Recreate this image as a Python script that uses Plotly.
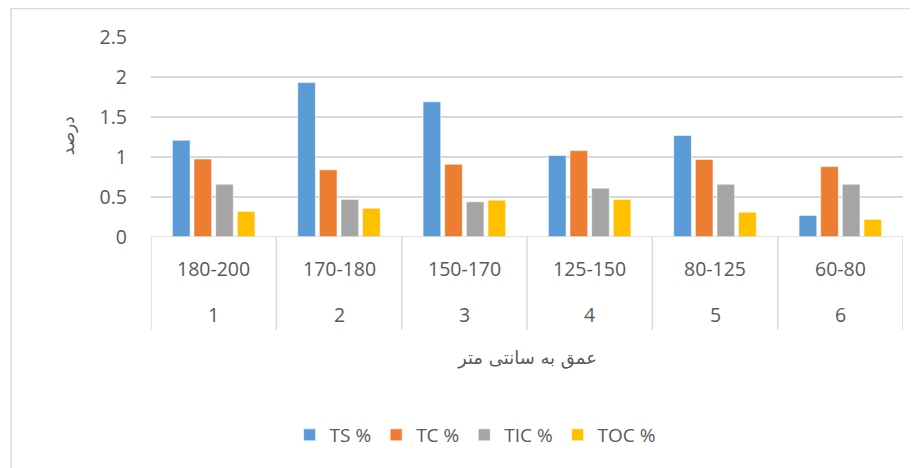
import plotly.graph_objects as go

depths = ["180-200", "170-180", "150-170", "125-150", "80-125", "60-80"]
samples = ["1", "2", "3", "4", "5", "6"]
ts = [1.21, 1.93, 1.69, 1.02, 1.27, 0.27]
tc = [0.975, 0.84, 0.91, 1.08, 0.97, 0.88]
tic = [0.66, 0.47, 0.44, 0.61, 0.66, 0.66]
toc = [0.32, 0.36, 0.46, 0.47, 0.31, 0.22]
series = [("TS %", ts, "#5B9BD5"), ("TC %", tc, "#ED7D31"),
          ("TIC %", tic, "#A5A5A5"), ("TOC %", toc, "#FFC000")]
y_ticks = [0, 0.5, 1, 1.5, 2, 2.5]
y_ticktext = ["0", "0.5", "1", "1.5", "2", "2.5"]

fig = go.Figure()
for name, vals, col in series:
    fig.add_trace(go.Bar(x=depths, y=vals, name=name,
                         marker=dict(color=col, line=dict(color="rgba(255,255,255,0.6)", width=1))))

tickfont = dict(family="Open Sans", size=19.5, color="#595959")
fig.update_layout(
    width=910, height=460,
    margin=dict(l=143, r=15, t=29, b=231),
    paper_bgcolor="white", plot_bgcolor="white",
    barmode="group", bargap=0.31, bargroupgap=0.18,
    showlegend=True,
    legend=dict(orientation="h", x=0.431, xanchor="center", y=-0.99, yanchor="middle",
                font=dict(family="Open Sans", size=19, color="#595959"),
                itemwidth=30, traceorder="normal"),
    xaxis=dict(type="category", showticklabels=False, showgrid=False, zeroline=False,
               showline=False, range=[-0.5, 5.5]),
    yaxis=dict(range=[0, 2.5], tickvals=y_ticks, ticktext=y_ticktext, tickfont=tickfont,
               showgrid=True, gridcolor="#D9D9D9", gridwidth=1.5, zeroline=False,
               showline=False, ticks="", ticklabelstandoff=23),
)

annotations = []
for i, (d, s) in enumerate(zip(depths, samples)):
    annotations.append(dict(x=d, y=-0.155, xref="x", yref="paper", text=d, showarrow=False,
                            font=tickfont, yanchor="middle"))
    annotations.append(dict(x=d, y=-0.385, xref="x", yref="paper", text=s, showarrow=False,
                            font=tickfont, yanchor="middle"))
annotations.append(dict(x=0.5, y=-0.605, xref="paper", yref="paper", text="عمق به سانتی متر",
                        showarrow=False, font=dict(family="DejaVu Sans", size=18, color="#595959"),
                        yanchor="middle"))
annotations.append(dict(x=-0.110, y=0.505, xref="paper", yref="paper", text="درصد", textangle=-90,
                        showarrow=False, font=dict(family="DejaVu Sans", size=17, color="#595959"),
                        xanchor="center", yanchor="middle"))
fig.update_layout(annotations=annotations)

shapes = []
# x-axis baseline
shapes.append(dict(type="line", xref="paper", yref="y", x0=0, x1=1, y0=0, y1=0,
                   line=dict(color="#D9D9D9", width=1.5)))
for k in range(7):
    shapes.append(dict(type="line", xref="x", yref="paper", x0=k - 0.5, x1=k - 0.5,
                       y0=0, y1=-0.465, line=dict(color="#D9D9D9", width=1.5)))
# chart border
shapes.append(dict(type="rect", xref="paper", yref="paper", x0=-0.186, x1=1.03,
                   y0=-1.2, y1=1.143, line=dict(color="#D9D9D9", width=1.5)))
fig.update_layout(shapes=shapes)

fig.write_html("out.html")
